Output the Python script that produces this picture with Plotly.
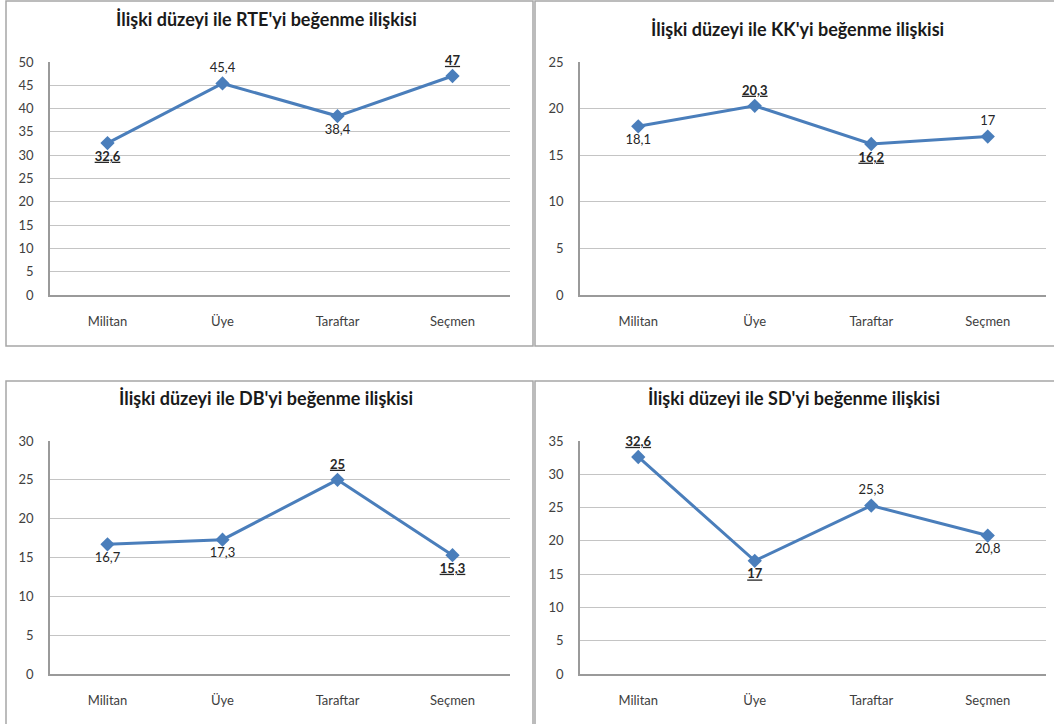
import plotly.graph_objects as go

W, H = 1054, 724

categories = ["Militan", "Üye", "Taraftar", "Seçmen"]

titles = [
    "İlişki düzeyi ile RTE'yi beğenme ilişkisi",
    "İlişki düzeyi ile KK'yi beğenme ilişkisi",
    "İlişki düzeyi ile DB'yi beğenme ilişkisi",
    "İlişki düzeyi ile SD'yi beğenme ilişkisi",
]

rte_values = [32.6, 45.4, 38.4, 47]
kk_values = [18.1, 20.3, 16.2, 17]
db_values = [16.7, 17.3, 25, 15.3]
sd_values = [32.6, 17, 25.3, 20.8]

rte_label_pos = ["bottom center", "top center", "bottom center", "top center"]
kk_label_pos = ["bottom center", "top center", "bottom center", "top center"]
db_label_pos = ["bottom center", "bottom center", "top center", "bottom center"]
sd_label_pos = ["top center", "bottom center", "top center", "bottom center"]

y_max = [50, 25, 30, 35]
y_step = [5, 5, 5, 5]

series = [rte_values, kk_values, db_values, sd_values]
label_positions = [rte_label_pos, kk_label_pos, db_label_pos, sd_label_pos]

# pixel layout of each panel: plot area (x0, x1, ytop, ybottom), border box, title center
plot_boxes = [(50, 510, 62, 295), (580, 1046, 62, 295), (50, 510, 441, 674), (580, 1046, 441, 674)]
border_boxes = [(6, 533, 1, 346), (535, 1060, 1, 346), (6, 533, 381, 730), (535, 1060, 381, 730)]
title_pos = [(266, 19), (797, 29), (266, 398), (794, 398)]

FONT = "Lato, 'Open Sans', sans-serif"
LINE_COLOR = "#4A7EBB"


def fmt(v):
    s = ("%g" % v).replace(".", ",")
    return s


fig = go.Figure()
layout = dict(
    width=W, height=H, autosize=False,
    margin=dict(l=0, r=0, t=0, b=0, autoexpand=False),
    paper_bgcolor="white", plot_bgcolor="white",
    showlegend=False,
    font=dict(family=FONT, color="#404040", size=12),
    shapes=[], annotations=[],
)

for i in range(4):
    vals = series[i]
    vmin, vmax = min(vals), max(vals)
    texts = []
    for v in vals:
        if v == vmin or v == vmax:
            texts.append("<b><span style='text-decoration:underline'>%s</span></b>" % fmt(v))
        else:
            texts.append(fmt(v))
    xa = "x" if i == 0 else "x%d" % (i + 1)
    ya = "y" if i == 0 else "y%d" % (i + 1)
    fig.add_trace(go.Scatter(
        x=categories, y=vals, xaxis=xa, yaxis=ya,
        mode="lines+markers+text",
        line=dict(color=LINE_COLOR, width=3),
        marker=dict(symbol="diamond", size=11, color=LINE_COLOR),
        text=texts, textposition=label_positions[i],
        textfont=dict(family=FONT, size=13, color="#262626"),
        cliponaxis=False, hoverinfo="skip",
    ))
    x0, x1, yt, yb = plot_boxes[i]
    key_x = "xaxis" if i == 0 else "xaxis%d" % (i + 1)
    key_y = "yaxis" if i == 0 else "yaxis%d" % (i + 1)
    layout[key_x] = dict(
        domain=[x0 / W, x1 / W], anchor=ya, type="category",
        range=[-0.5, 3.5], showgrid=False, showline=True,
        linecolor="#9a9a9a", linewidth=1.5, ticks="",
        ticklabelstandoff=14, tickfont=dict(size=13, color="#404040"),
        fixedrange=True, automargin=False,
    )
    layout[key_y] = dict(
        domain=[1 - yb / H, 1 - yt / H], anchor=xa,
        range=[0, y_max[i]], dtick=y_step[i], tick0=0,
        showgrid=True, gridcolor="#c4c4c4", gridwidth=1.3,
        showline=True, linecolor="#9a9a9a", linewidth=1.5,
        zeroline=False, ticks="", ticklabelstandoff=12,
        tickfont=dict(size=13, color="#404040"), fixedrange=True,
        automargin=False,
    )
    bx0, bx1, by0, by1 = border_boxes[i]
    layout["shapes"].append(dict(
        type="rect", xref="paper", yref="paper",
        x0=bx0 / W, x1=bx1 / W, y0=1 - by1 / H, y1=1 - by0 / H,
        line=dict(color="#a6a6a6", width=1.5), fillcolor="rgba(0,0,0,0)", layer="below",
    ))
    tx, ty = title_pos[i]
    layout["annotations"].append(dict(
        text="<b>%s</b>" % titles[i], xref="paper", yref="paper",
        x=tx / W, y=1 - ty / H, xanchor="center", yanchor="middle",
        showarrow=False, font=dict(family=FONT, size=18, color="#1a1a1a"),
    ))

fig.update_layout(**layout)
fig.write_html(
    "out.html",
    config={"displayModeBar": False},
    post_script="document.body.style.margin='0';document.body.style.overflow='hidden';",
)
